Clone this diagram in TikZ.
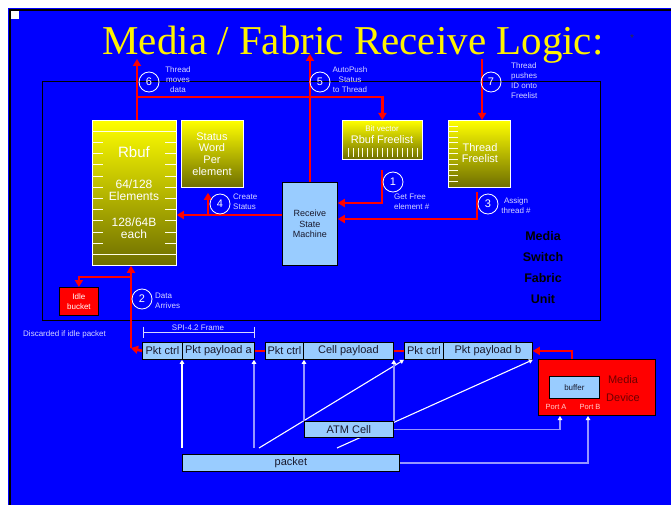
\documentclass[tikz,border=0pt]{standalone}
\usepackage{fontspec}
\setmainfont{Liberation Sans}
\newfontfamily\titlefont{Liberation Serif}
\usetikzlibrary{arrows.meta}
\definecolor{lblue}{RGB}{153,204,255}
\definecolor{olivebot}{RGB}{110,110,0}
\definecolor{lav}{RGB}{150,150,255}
\definecolor{lbltxt}{RGB}{215,215,255}
\definecolor{boxtxt}{RGB}{25,25,45}
\definecolor{devtxt}{RGB}{110,0,0}
\definecolor{porttxt}{RGB}{255,205,205}
\begin{document}
\begin{tikzpicture}[x=1pt,y=-1pt,
  yb/.style={draw=white, line width=0.8pt, top color=yellow, bottom color=olivebot, inner sep=0pt, anchor=north west},
  lb/.style={draw=black, line width=0.8pt, fill=lblue, inner sep=0pt, anchor=north west, text=boxtxt},
  fr/.style={lb, minimum height=17pt, font=\fontsize{11}{11}\selectfont},
  ytxt/.style={text=white, inner sep=0pt},
  tickln/.style={draw=white!90!yellow, line width=0.6pt},
  redln/.style={draw=red, line width=2.6pt},
  redarr/.style={redln, -{Triangle[length=7pt,width=8pt]}},
  num/.style={circle, draw=white, line width=0.8pt, minimum size=20pt, inner sep=0pt, text=white, font=\fontsize{11}{11}\selectfont},
  lbl/.style={text=lbltxt, font=\fontsize{8}{10}\selectfont, inner sep=0pt},
  whl/.style={draw=white, line width=1.1pt},
  lavl/.style={draw=lav, line width=1.8pt},
  uptip/.style={-{Triangle[length=4pt,width=4.5pt,color=white]}}
]
\useasboundingbox (0,0) rectangle (671,505);
\fill[white] (0,0) rectangle (671,505);
\fill[blue] (8,8) rectangle (671,505);
\draw[line width=2pt] (10,505) -- (10,10) -- (671,10);
\fill[white] (11,11) rectangle (19,19);

% title
\node[font=\titlefont\fontsize{41}{41}\selectfont, text=yellow, anchor=base, inner sep=0pt] (title) at (353,55) {Media / Fabric Receive Logic:};
\node[font=\fontsize{10}{10}\selectfont, text=black!80, inner sep=0pt] (star) at (632,38) {*};

% unit frame
\node[draw=black, line width=1pt, anchor=north west, minimum width=558pt, minimum height=239pt, inner sep=0pt] (msfu) at (42,81) {};
\node[font=\bfseries\fontsize{12.5}{21.3}\selectfont, align=center, text=black, inner sep=0pt] (msfut) at (543,267.5) {Media\\Switch\\Fabric\\Unit};

% Rbuf
\node[yb, minimum width=84pt, minimum height=145pt] (rbuf) at (92,120) {};
\draw[tickln] (rbuf.north west |- 0,131) -- (rbuf.north east |- 0,131);
\draw[tickln] (rbuf.north west |- 0,254) -- (rbuf.north east |- 0,254);
\foreach \y in {142,153,164,176,187,198,209,220,232,243} {
  \draw[tickln] (92,\y) -- (103,\y);
  \draw[tickln] (165,\y) -- (176,\y);
}
\node[ytxt, font=\fontsize{15}{15}\selectfont] (rbuft) at (134,152) {Rbuf};
\node[ytxt, font=\fontsize{12}{12}\selectfont, align=center] (rbufe) at (134,190) {64/128\\Elements};
\node[ytxt, font=\fontsize{12}{12}\selectfont, align=center] (rbufs) at (134,228) {128/64B\\each};

% Status word
\node[yb, minimum width=62pt, minimum height=67pt] (stat) at (181,120) {};
\node[ytxt, font=\fontsize{11}{11.8}\selectfont, align=center] (statt) at (212,154) {Status\\Word\\Per\\element};

% Bit vector
\node[yb, minimum width=80pt, minimum height=39pt] (bitvec) at (342,120) {};
\node[ytxt, font=\fontsize{8}{8}\selectfont] (bvt) at (382,129) {Bit vector};
\node[ytxt, font=\fontsize{11}{11}\selectfont] (bvr) at (382,140) {Rbuf Freelist};
\foreach \i in {0,...,14} { \draw[tickln] ({348+\i*4.93},148) -- ({348+\i*4.93},157); }

% Thread freelist
\node[yb, minimum width=62pt, minimum height=67pt] (tfl) at (448,120) {};
\foreach \y in {126,131.5,137,142.5,148,153.5,159,164.5,170,175.5,181} { \draw[tickln] (448,\y) -- (458,\y); }
\node[ytxt, font=\fontsize{11}{11}\selectfont, align=center] (tflt) at (480,153.5) {Thread\\Freelist};

% Receive state machine
\node[lb, minimum width=55pt, minimum height=83pt, align=center, font=\fontsize{9}{10.2}\selectfont] (rsm) at (282,182) {Receive\\State\\Machine};

% Idle bucket
\node[draw=black, line width=0.8pt, fill=red, anchor=north west, minimum width=39pt, minimum height=28pt, inner sep=0pt, align=center, text=white, font=\fontsize{8}{10}\selectfont] (idle) at (59,287) {Idle\\bucket};

% red connectors
\coordinate (t6) at (137,59);
\coordinate (j6) at (137,97);
\coordinate (t5) at (310,54);
\coordinate (s7) at (482,59);
\coordinate (s1) at (382,170);
\coordinate (s3) at (477,192);
\coordinate (j4) at (208,215);
\coordinate (j2) at (131,348);
\coordinate (j2b) at (131,277);
\draw[redarr] (rbuf.north -| t6) -- (t6);
\draw[redarr] (j6) -| (bitvec.north);
\draw[redarr] (rsm.north -| t5) -- (t5);
\draw[redarr] (s7) -- (s7 |- tfl.north);
\draw[redarr] (s1) |- (rsm.east |- 0,203);
\draw[redarr] (s3) |- (rsm.east |- 0,219);
\draw[redarr] (rsm.west |- j4) -- (rbuf.east |- j4);
\draw[redarr, shorten >=5pt] (j4) -- (j4 |- stat.south);
\draw[redarr] (j2) -- (j2 |- rbuf.south);
\draw[redarr] (j2b) -| (idle.north);

% numbered circles
\node[num] (c6) at (149,82) {6};
\node[num] (c5) at (320,82) {5};
\node[num] (c7) at (491,82) {7};
\node[num] (c1) at (393,182) {1};
\node[num] (c3) at (488,204) {3};
\node[num] (c4) at (220,204) {4};
\node[num] (c2) at (142,299) {2};

% labels
\node[lbl, align=center] (l6) at (178,80) {Thread\\moves\\data};
\node[lbl, align=center] (l5) at (350,80) {AutoPush\\Status\\to Thread};
\node[lbl, align=left, anchor=west] (l7) at (511,81) {Thread\\pushes\\ID onto\\Freelist};
\node[lbl, align=left, anchor=west] (l1) at (394,202) {Get Free\\element \#};
\node[lbl, align=center] (l3) at (516,206) {Assign\\thread \#};
\node[lbl, align=left, anchor=west] (l4) at (233,202) {Create\\Status};
\node[lbl, align=left, anchor=west] (l2) at (155,301) {Data\\Arrives};
\node[lbl, anchor=west] (ldis) at (23,334) {Discarded if idle packet};

% SPI-4.2 frame bracket
\coordinate (spa) at (143,332);
\coordinate (spb) at (254,332);
\draw[draw=lbltxt, line width=0.8pt] (spa) -- (spb);
\draw[draw=lbltxt, line width=0.8pt] ([yshift=5.5pt]spa) -- ([yshift=-5.5pt]spa);
\draw[draw=lbltxt, line width=0.8pt] ([yshift=5.5pt]spb) -- ([yshift=-5.5pt]spb);
\node[lbl] (spit) at (198,328) {SPI-4.2 Frame};

% frame boxes
\node[fr, minimum width=40pt] (pc1) at (142,342) {Pkt ctrl};
\node[fr, minimum width=72pt] (pa) at (182,342) {Pkt payload a};
\node[fr, minimum width=38pt] (pc2) at (265,342) {Pkt ctrl};
\node[fr, minimum width=90pt] (cp) at (303,342) {Cell payload};
\node[fr, minimum width=39pt] (pc3) at (404,342) {Pkt ctrl};
\node[fr, minimum width=89pt] (pb) at (443,342) {Pkt payload b};
\draw[redln] (pa.east) -- (pc2.west);
\draw[redln] (cp.east) -- (pc3.west);
\draw[redarr] (pc1.west) -- (j2);

% media device
\node[draw=black, line width=0.8pt, fill=red, anchor=north west, minimum width=117pt, minimum height=56pt, inner sep=0pt] (media) at (538,359) {};
\node[text=devtxt, font=\fontsize{11}{18}\selectfont, align=center, inner sep=0pt] (mediat) at (623,389) {Media\\Device};
\node[lb, minimum width=50pt, minimum height=22pt, font=\fontsize{8}{8}\selectfont] (buf) at (549,376) {buffer};
\node[text=porttxt, font=\fontsize{7.5}{7.5}\selectfont, inner sep=0pt] (porta) at (556,407) {Port A};
\node[text=porttxt, font=\fontsize{7.5}{7.5}\selectfont, inner sep=0pt] (portb) at (590,407) {Port B};
\coordinate (mtop) at (572,359);
\draw[redarr] (mtop) |- (pb.east);

% light connectors to frame
\coordinate (b1) at (182,448);
\coordinate (b2) at (254,448);
\coordinate (b3) at (259,448);
\coordinate (b4) at (337,448);
\coordinate (pA) at (560,416);
\coordinate (pB) at (588,416);
\draw[whl, uptip] (b1) -- (b1 |- pc1.south);
\draw[lavl, uptip] (b2) -- (b2 |- pa.south);
\draw[whl, uptip] (b3) -- (pc3.south west);
\draw[whl, uptip] (b4) -- (pb.south east);

% ATM cell and packet
\node[fr, minimum width=89pt, minimum height=16pt] (atm) at (304,421) {ATM Cell};
\node[fr, minimum width=217pt] (pk) at (182,454) {packet};
\draw[lavl, uptip] (atm.north west) -- (atm.north west |- cp.south);
\draw[lavl, uptip] (atm.north east) -- (atm.north east |- cp.south);
\draw[lavl, uptip] (atm.east) -| (pA);
\draw[lavl, uptip] (pk.east) -| (pB);
\end{tikzpicture}
\end{document}
